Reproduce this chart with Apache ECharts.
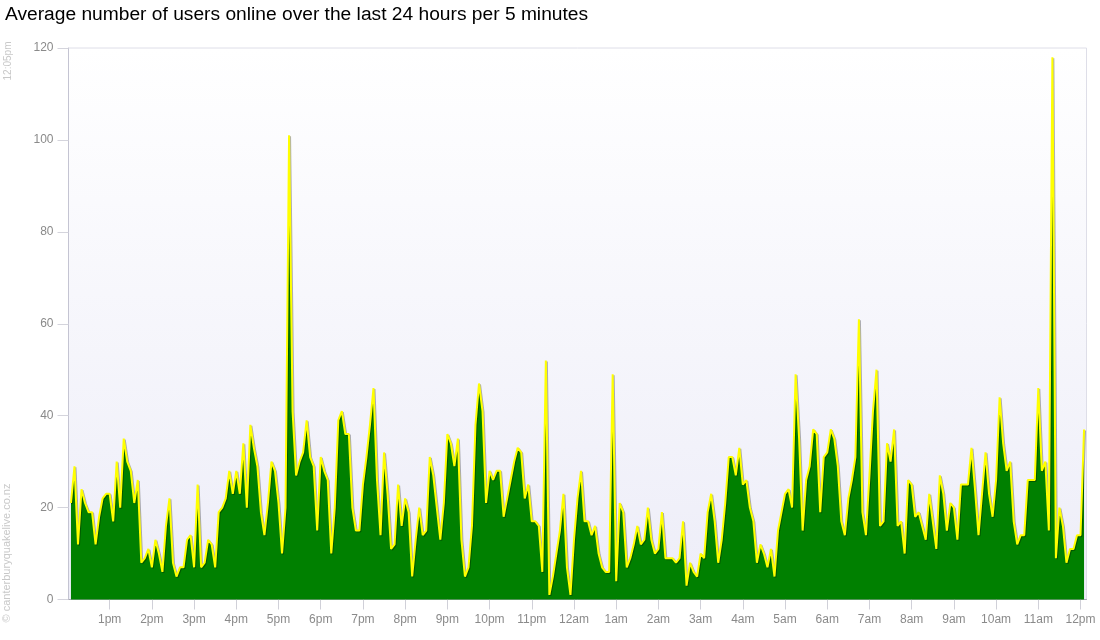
<!DOCTYPE html>
<html>
<head>
<meta charset="utf-8">
<script src="https://cdn.jsdelivr.net/npm/echarts@6/dist/echarts.min.js"></script>
<style>
html,body{margin:0;padding:0;background:#fff;}
#chart{width:1100px;height:640px;}
</style>
</head>
<body>
<div id="chart"></div>
<script>
// Average users online, one value per 5 minutes, from 12:05pm to 12:05pm next day
const seg01 = [21, 29, 12, 24, 21, 19, 19, 12, 18, 22, 23, 23, 17, 30, 20, 35, 30, 28, 21, 26, 8, 9, 11, 7, 13, 10, 6, 16, 22];
const seg02 = [8, 5, 7, 7, 13, 14, 7, 25, 7, 8, 13, 12, 7, 19, 20, 22, 28, 23, 28, 23, 34, 20, 38, 33, 29, 19, 14, 21, 30, 28];
const seg03 = [21, 10, 20, 101, 41, 27, 30, 32, 39, 31, 29, 15, 31, 28, 26, 10, 20, 39, 41, 36, 36, 20, 15, 15, 25, 31, 38, 46, 26, 14];
const seg04 = [32, 23, 11, 12, 25, 16, 22, 19, 5, 13, 20, 14, 15, 31, 27, 20, 13, 21, 36, 34, 29, 35, 13, 5, 7, 16, 38, 47, 41];
const seg05 = [21, 28, 26, 28, 28, 18, 22, 26, 30, 33, 32, 22, 25, 17, 17, 16, 6, 52, 1, 5, 10, 15, 23, 7, 1, 13, 22, 28, 17, 17];
const seg06 = [14, 16, 10, 7, 6, 6, 49, 4, 21, 19, 7, 9, 12, 16, 12, 13, 20, 13, 10, 11, 19, 9, 9, 9, 8, 9, 17, 3, 8];
const seg07 = [6, 5, 10, 9, 19, 23, 17, 8, 13, 21, 31, 31, 27, 33, 25, 26, 20, 17, 8, 12, 10, 7, 11, 5, 15, 19, 23, 24, 20, 49];
const seg08 = [35, 15, 26, 29, 37, 36, 19, 31, 32, 37, 35, 29, 17, 14, 22, 26, 31, 61, 19, 14, 27, 41, 50, 16, 17, 34, 30, 37, 16, 17];
const seg09 = [10, 26, 25, 18, 19, 16, 13, 23, 17, 11, 27, 23, 15, 21, 20, 13, 25, 25, 25, 33, 24, 14, 23, 32, 23, 18, 26, 44, 34, 28];
const seg10 = [30, 17, 12, 14, 14, 26, 26, 26, 46, 28, 30, 15, 118, 9, 20, 16, 8, 11, 11, 14, 14, 37];

// Hour tick labels (every 12 samples)
const hourLabels = ['1pm','2pm','3pm','4pm','5pm','6pm','7pm','8pm','9pm','10pm','11pm','12am',
                    '1am','2am','3am','4am','5am','6am','7am','8am','9am','10am','11am','12pm'];
const yTicks = [0, 20, 40, 60, 80, 100, 120];

const titleText = 'Average number of users online over the last 24 hours per 5 minutes';
const updatedText = '12:05pm';
const creditText = '\u00a9 canterburyquakelive.co.nz';

const values = [].concat(seg01, seg02, seg03, seg04, seg05, seg06, seg07, seg08, seg09, seg10);
// sample k (1-based) = k*5 minutes after 12:00pm
const seriesData = values.map((v, i) => [i + 1, v]);
const hourTickValues = hourLabels.map((_, h) => (h + 1) * 12);

const chart = echarts.init(document.getElementById('chart'), null, {renderer: 'canvas'});
const font = 'Liberation Sans, Arial, sans-serif';
chart.setOption({
  animation: false,
  backgroundColor: '#ffffff',
  title: {
    text: titleText,
    left: 0, top: 0,
    textStyle: {fontFamily: font, fontSize: 19.2, fontWeight: 'normal', color: '#000'}
  },
  graphic: [
    {type: 'text', x: 8, y: 61, rotation: Math.PI / 2,
     style: {text: updatedText, fill: '#c8c8c8', font: '10px ' + font, align: 'center', verticalAlign: 'middle'}},
    {type: 'text', x: 7, y: 553, rotation: Math.PI / 2,
     style: {text: creditText, fill: '#c8c8c8', font: '11px ' + font, align: 'center', verticalAlign: 'middle'}}
  ],
  grid: {
    left: 68.5, right: 13.5, top: 48, bottom: 40.5,
    show: true,
    borderColor: '#dedee8', borderWidth: 1,
    backgroundColor: new echarts.graphic.LinearGradient(0, 0, 0, 1, [
      {offset: 0, color: '#ffffff'}, {offset: 1, color: '#ededf8'}
    ])
  },
  xAxis: {
    type: 'value', min: 0.3, max: 289.7,
    axisLine: {show: true, lineStyle: {color: '#a8a8b4', width: 1}},
    axisTick: {show: true, length: 10, customValues: hourTickValues, lineStyle: {color: '#d0d0d8'}},
    axisLabel: {
      customValues: hourTickValues, margin: 14, color: '#8a8a8a', fontSize: 12, fontFamily: font,
      formatter: v => hourLabels[Math.round(v / 12) - 1] || ''
    },
    splitLine: {show: false}
  },
  yAxis: {
    type: 'value', min: 0, max: 120, interval: 20,
    axisLine: {show: true, lineStyle: {color: '#c4c4d2', width: 1}},
    axisTick: {show: true, length: 11, lineStyle: {color: '#d4d4dc'}},
    axisLabel: {margin: 15, color: '#8a8a8a', fontSize: 12, fontFamily: font,
      customValues: yTicks},
    splitLine: {show: false}
  },
  series: [{
    type: 'line',
    data: seriesData,
    showSymbol: false,
    symbol: 'none',
    lineStyle: {color: '#ffff00', width: 2, shadowColor: 'rgba(0,0,0,0.3)', shadowBlur: 0, shadowOffsetX: 1, shadowOffsetY: 1},
    areaStyle: {color: '#008000', opacity: 1},
    z: 2
  }]
});
</script>
</body>
</html>
